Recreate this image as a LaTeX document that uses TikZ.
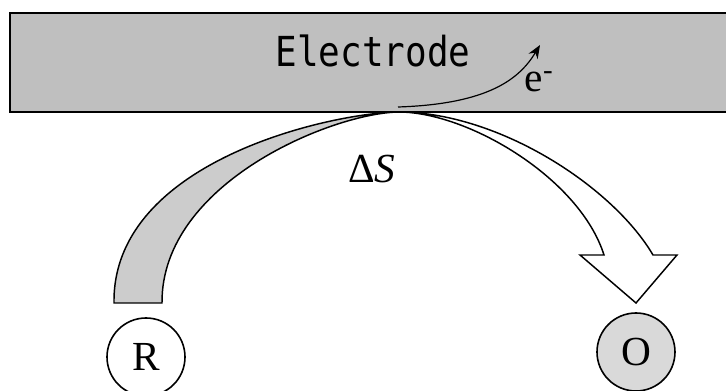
\documentclass[tikz,border=0pt]{standalone}
\usepackage{fontspec}
\setmainfont{Liberation Serif}
\newfontfamily\gothic{DejaVu Sans Mono}
\usetikzlibrary{arrows.meta, positioning}

\definecolor{electrodegray}{gray}{0.75}

\begin{document}
\begin{tikzpicture}[
  x=0.75pt, y=-0.75pt, >=Stealth, line width=1.1pt,
  species/.style={circle, draw, line width=1.2pt, minimum size=58.5pt, inner sep=0pt, font=\fontsize{31}{31}\selectfont},
  lbl/.style={inner sep=0pt, font=\fontsize{31}{31}\selectfont}
]
  \useasboundingbox (0,0) rectangle (726,391);

  % Bande grise (cote R) puis fleche blanche (cote O).
  \filldraw[fill=gray!40] (114,303) .. controls (112,160) and (335,112) .. (400,112)
    .. controls (335,112) and (161,182) .. (162,303) -- cycle;
  \filldraw[fill=white] (400,112) .. controls (500,113) and (613,187) .. (653,255)
    -- (677,255) -- (636,303) -- (580,255) -- (604,255)
    .. controls (580,179) and (470,113) .. (400,112) -- cycle;

  % Electrode.
  \fill[electrodegray] (10,13) rectangle (726,112);
  \draw[line width=1.6pt] (726,13) -- (10,13) -- (10,112) -- (726,112);
  \node[anchor=base, inner sep=0pt] (electrode) at (373,67)
    {\gothic\fontsize{31}{31}\selectfont\scalebox{0.87}[1]{Electrode}};

  \coordinate (eout) at (398,107);
  \coordinate (ein) at (540,45);
  \draw[-{Stealth[length=10pt, width=8pt]}, line width=0.9pt]
    (eout) .. controls (490,104) and (520,78) .. (ein);
  \node[lbl, anchor=base west] (elec) at (524,92) {e\textsuperscript{-}};

  \node[lbl] (dS) at (372,169) {Δ\textit{S}};

  \node[species] (R) at (146,357) {R};
  \node[species, fill=gray!30] (O) at (636,352) {O};
\end{tikzpicture}
\end{document}
